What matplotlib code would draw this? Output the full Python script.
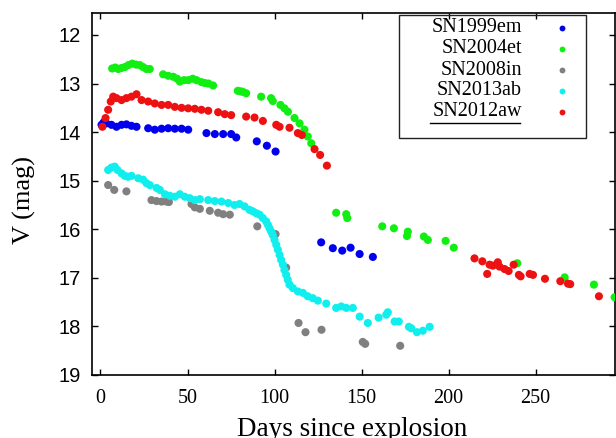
import matplotlib
matplotlib.use("Agg")
import matplotlib.pyplot as plt
from matplotlib.patches import Rectangle
from matplotlib.lines import Line2D

plt.rcParams['font.family'] = ['Liberation Serif', 'DejaVu Serif']

# V-band light curves (days since explosion, V mag)
sn1999em_days = [0.6, 1.8, 3.4, 6.3, 9.2, 12.1, 14.9, 17.8, 20.7, 27.4, 31.2, 35.1, 38.9,
                 42.7, 46.6, 50.4, 60.9, 65.7, 70.5, 75.1, 78.0, 89.8, 95.6, 100.6,
                 126.8, 133.5, 138.9, 143.7, 148.9, 156.5]
sn1999em_mag = [13.85, 13.80, 13.82, 13.85, 13.89, 13.85, 13.84, 13.87, 13.89, 13.92, 13.95,
                13.93, 13.92, 13.93, 13.93, 13.95, 14.02, 14.04, 14.04, 14.04, 14.11, 14.19,
                14.28, 14.40, 16.27, 16.39, 16.44, 16.38, 16.51, 16.57]

sn2004et_days = [6.7, 8.5, 10.2, 12.0, 14.0, 16.0, 18.2, 20.5, 22.6, 24.5, 26.4, 28.3, 36.0,
                 38.9, 41.8, 44.0, 45.6, 48.0, 50.4, 53.0, 55.2, 58.0, 60.0, 62.0, 64.7,
                 78.9, 80.5, 81.8, 83.7, 92.3, 98.0, 99.0, 103.4, 105.7, 107.7, 111.5,
                 114.4, 117.2, 119.1, 121.1, 135.4, 141.2, 141.8, 161.9, 168.6, 176.1,
                 176.6, 185.8, 188.1, 198.3, 203.0, 239.5, 266.7, 283.5, 295.4]
sn2004et_mag = [12.69, 12.67, 12.70, 12.68, 12.66, 12.62, 12.59, 12.61, 12.62, 12.66, 12.70,
                12.70, 12.81, 12.84, 12.86, 12.90, 12.96, 12.93, 12.93, 12.90, 12.93, 12.97,
                12.99, 13.00, 13.04, 13.15, 13.16, 13.17, 13.20, 13.27, 13.30, 13.36, 13.44,
                13.51, 13.58, 13.71, 13.82, 13.95, 14.09, 14.23, 15.66, 15.69, 15.77, 15.94,
                15.98, 16.14, 16.05, 16.15, 16.22, 16.24, 16.38, 16.70, 16.99, 17.14, 17.40]

sn2008in_days = [4.4, 7.9, 14.9, 29.3, 32.2, 35.1, 37.9, 39.3, 52.3, 54.2, 57.1, 62.8, 67.6,
                 70.5, 74.3, 90.1, 100.6, 106.7, 113.8, 117.8, 127.0, 150.7, 152.1, 172.2]
sn2008in_mag = [15.09, 15.19, 15.22, 15.40, 15.42, 15.43, 15.43, 15.44, 15.48, 15.55, 15.58,
                15.62, 15.66, 15.69, 15.70, 15.94, 16.10, 16.79, 17.93, 18.12, 18.07, 18.32,
                18.36, 18.40]

sn2013ab_days = [4.4, 6.3, 8.2, 9.8, 12.1, 14.0, 15.9, 17.8, 21.7, 24.5, 26.4, 28.3, 32.2,
                 34.1, 37.0, 39.8, 42.7, 45.6, 48.4, 51.3, 54.2, 57.1, 61.9, 65.7, 69.5,
                 73.4, 77.0, 79.9, 82.8, 85.6, 87.5, 89.5, 91.4, 93.3, 95.2, 96.2, 97.1,
                 98.1, 99.0, 100.0, 101.0, 101.9, 102.9, 103.8, 104.8, 105.7, 106.7, 107.6,
                 108.6, 110.5, 113.4, 116.3, 119.1, 122.0, 124.9, 129.7, 135.4, 138.3,
                 141.2, 145.0, 148.9, 153.6, 159.8, 164.2, 165.1, 169.0, 171.4, 177.2,
                 178.6, 181.8, 185.2, 189.1]
sn2013ab_mag = [14.78, 14.73, 14.71, 14.78, 14.85, 14.90, 14.92, 14.90, 14.95, 14.98, 15.05,
                15.09, 15.15, 15.19, 15.28, 15.31, 15.33, 15.28, 15.33, 15.36, 15.40, 15.38,
                15.40, 15.42, 15.43, 15.46, 15.50, 15.48, 15.53, 15.60, 15.63, 15.67, 15.70,
                15.77, 15.84, 15.91, 15.98, 16.05, 16.12, 16.22, 16.32, 16.42, 16.53, 16.63,
                16.73, 16.84, 16.94, 17.04, 17.14, 17.21, 17.28, 17.31, 17.38, 17.42, 17.47,
                17.53, 17.62, 17.59, 17.62, 17.62, 17.80, 17.93, 17.82, 17.76, 17.71, 17.90,
                17.90, 18.01, 18.04, 18.12, 18.09, 18.01]

sn2012aw_days = [1.1, 2.9, 4.4, 5.9, 7.3, 9.2, 12.1, 14.9, 17.8, 20.7, 23.6, 27.4, 31.2,
                 35.1, 38.9, 42.7, 46.6, 50.4, 54.2, 58.0, 61.9, 67.6, 71.4, 75.1, 83.7,
                 88.5, 93.3, 101.0, 102.9, 108.6, 113.4, 115.7, 123.0, 126.2, 130.1,
                 214.9, 219.4, 222.2, 223.6, 225.5, 228.3, 229.3, 232.2, 234.5, 237.4,
                 240.4, 241.4, 246.6, 248.5, 255.4, 264.2, 268.6, 269.9, 286.4]
sn2012aw_mag = [13.89, 13.71, 13.54, 13.37, 13.27, 13.30, 13.34, 13.30, 13.27, 13.22, 13.34,
                13.37, 13.41, 13.44, 13.44, 13.48, 13.50, 13.51, 13.52, 13.54, 13.56, 13.59,
                13.63, 13.65, 13.68, 13.70, 13.77, 13.85, 13.89, 13.91, 14.02, 14.06, 14.35,
                14.47, 14.69, 16.60, 16.66, 16.92, 16.73, 16.75, 16.68, 16.77, 16.82, 16.86,
                16.73, 16.94, 16.97, 16.92, 16.94, 17.02, 17.07, 17.12, 17.13, 17.38]

names = ['SN1999em', 'SN2004et', 'SN2008in', 'SN2013ab', 'SN2012aw']
colors = ['#0000ee', '#11ee11', '#808080', '#11eeee', '#ee1111']
series = [(sn1999em_days, sn1999em_mag), (sn2004et_days, sn2004et_mag),
          (sn2008in_days, sn2008in_mag), (sn2013ab_days, sn2013ab_mag),
          (sn2012aw_days, sn2012aw_mag)]

fig = plt.figure(figsize=(6.16, 4.38), dpi=100)
ax = fig.add_axes([0.149, 0.144, 0.849, 0.826])

for (d, m), c in zip(series, colors):
    ax.scatter(d, m, s=34, color=c, edgecolors='none', zorder=3)

ax.set_xlim(-5, 295.5)
ax.set_ylim(19, 11.55)
ax.set_xticks([0, 50, 100, 150, 200, 250])
ax.set_yticks(range(12, 20))
ax.tick_params(direction='in', top=True, right=True, length=4.5, width=1)
ax.tick_params(axis='x', pad=10, labelsize=14.5)
ax.tick_params(axis='y', pad=8, labelsize=14.5)
for lbl in ax.get_yticklabels():
    lbl.set_family('Liberation Sans')
for sp in ax.spines.values():
    sp.set_linewidth(1.2)

# axis titles placed like the original (x title runs off the bottom edge)
fig.text(352 / 616, 1 - 436 / 438, 'Days since explosion', ha='center',
         va='baseline', fontsize=19.5)
fig.text(24 / 616, 1 - 200 / 438, 'V (mag)', ha='center', va='center',
         rotation=90, fontsize=19)

# gnuplot-style key: right aligned text, point to the right
ax.add_patch(Rectangle((0.587, 0.655), 0.358, 0.339, transform=ax.transAxes,
                       fill=False, lw=1.0, color='#222222', zorder=4))
rows_y = [0.959, 0.901, 0.842, 0.785, 0.727]
for name, c, y in zip(names, colors, rows_y):
    ax.text(0.822, y, name, transform=ax.transAxes, ha='right', va='center',
            fontsize=14.5, zorder=5)
    ax.plot([0.900], [y], transform=ax.transAxes, marker='o', ms=4.2, color=c,
            mec='none', zorder=5, clip_on=False)
ax.add_line(Line2D([0.646, 0.818], [0.697, 0.697], transform=ax.transAxes,
                   color='black', lw=1.0, zorder=5))

fig.savefig('out.png', dpi=100)
